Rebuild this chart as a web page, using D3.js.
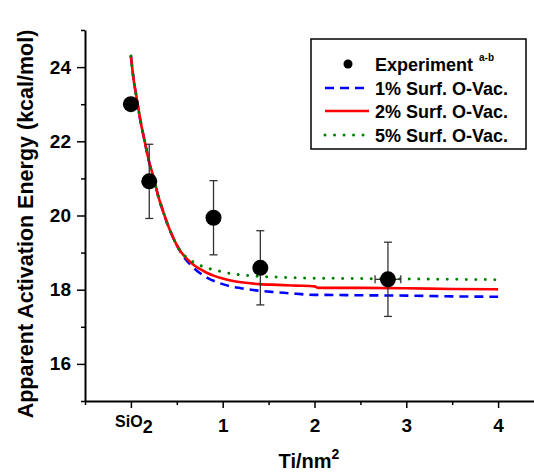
<!DOCTYPE html>
<html>
<head>
<meta charset="utf-8">
<script src="https://cdn.jsdelivr.net/npm/d3@7"></script>
<style>
  body { margin: 0; background: #fff; }
  text { font-family: "Liberation Sans", Arial, sans-serif; font-weight: bold; }
</style>
</head>
<body>
<script>
// experiment points (x in Ti/nm2, 0 = SiO2)
const expX = [0, 0.2, 0.9, 1.41, 2.8];
const expY = [23.0, 20.92, 19.94, 18.59, 18.28];
const expErrY = [0, 1.0, 1.0, 1.0, 1.0];
const expErrX = [0, 0, 0, 0, 0.14];

// model curves
const curveX = [0, 0.03, 0.06, 0.1, 0.15, 0.2, 0.25, 0.3, 0.35, 0.4, 0.45, 0.5, 0.55, 0.6,
  0.65, 0.7, 0.75, 0.8, 0.85, 0.9, 1.0, 1.1, 1.2, 1.4, 1.6, 1.8, 2.0, 2.04, 2.5, 3.0, 3.5, 4.0];
const vac1 = [24.30, 23.66, 23.21, 22.61, 22.00, 21.43, 21.00, 20.50, 20.12, 19.76, 19.46, 19.20, 18.98, 18.81,
  18.67, 18.55, 18.45, 18.37, 18.30, 18.24, 18.15, 18.08, 18.04, 17.97, 17.93, 17.89, 17.86, 17.86, 17.85, 17.84, 17.82, 17.81];
const vac2 = [24.30, 23.66, 23.21, 22.61, 22.00, 21.43, 21.00, 20.50, 20.12, 19.76, 19.46, 19.20, 19.00, 18.86,
  18.74, 18.64, 18.56, 18.49, 18.43, 18.38, 18.30, 18.24, 18.20, 18.15, 18.13, 18.11, 18.09, 18.05, 18.05, 18.04, 18.02, 18.01];
const vac5 = [24.30, 23.66, 23.21, 22.61, 22.00, 21.43, 21.00, 20.50, 20.12, 19.76, 19.46, 19.20, 19.01, 18.88,
  18.79, 18.72, 18.66, 18.61, 18.57, 18.54, 18.48, 18.43, 18.40, 18.36, 18.34, 18.32, 18.31, 18.31, 18.30, 18.29, 18.28, 18.27];

const xMajor = [0, 1, 2, 3, 4];
const xMinor = [-0.5, 0.5, 1.5, 2.5, 3.5, 4.5];
const yMajor = [16, 18, 20, 22, 24];
const yMinor = [15, 17, 19, 21, 23, 25];

const legendLabels = ["Experiment", "1% Surf. O-Vac.", "2% Surf. O-Vac.", "5% Surf. O-Vac."];

const width = 534, height = 472;

const svg = d3.select("body").append("svg")
  .attr("width", width)
  .attr("height", height);

const x = d3.scaleLinear().domain([-0.5, 4.5]).range([85, 544]);
const y = d3.scaleLinear().domain([15, 25]).range([401, 30]);

// curves
const series = [
  {vals: vac1, color: "#0000ff", dash: "9,6", cap: "butt"},
  {vals: vac2, color: "#ff0000", dash: null, cap: "butt"},
  {vals: vac5, color: "#008000", dash: "0.01,9.5", cap: "round"}
];
const line = d3.line().curve(d3.curveMonotoneX);
series.forEach(function(s){
  svg.append("path")
    .attr("d", line(curveX.map((d, i) => [x(d), y(s.vals[i])])))
    .attr("fill", "none")
    .attr("stroke", s.color)
    .attr("stroke-width", s.cap == "round" ? 3 : 2.6)
    .attr("stroke-linecap", s.cap)
    .attr("stroke-dasharray", s.dash);
});

// error bars
const eb = svg.append("g").attr("stroke", "#333").attr("stroke-width", 1.3);
expX.forEach(function(d, i){
  if (expErrY[i] > 0) {
    eb.append("line").attr("x1", x(d)).attr("x2", x(d))
      .attr("y1", y(expY[i] + expErrY[i])).attr("y2", y(expY[i] - expErrY[i]));
    [expY[i] + expErrY[i], expY[i] - expErrY[i]].forEach(v => {
      eb.append("line").attr("x1", x(d) - 4).attr("x2", x(d) + 4)
        .attr("y1", y(v)).attr("y2", y(v));
    });
  }
  if (expErrX[i] > 0) {
    eb.append("line").attr("y1", y(expY[i])).attr("y2", y(expY[i]))
      .attr("x1", x(d - expErrX[i])).attr("x2", x(d + expErrX[i]));
    [d - expErrX[i], d + expErrX[i]].forEach(v => {
      eb.append("line").attr("x1", x(v)).attr("x2", x(v))
        .attr("y1", y(expY[i]) - 4).attr("y2", y(expY[i]) + 4);
    });
  }
});

svg.selectAll(".pt")
  .data(expX)
  .enter().append("circle")
  .attr("class", "pt")
  .attr("cx", d => x(d))
  .attr("cy", (d, i) => y(expY[i]))
  .attr("r", 8)
  .attr("fill", "#000");

// axes
const xAxis = svg.append("g").attr("transform", "translate(0,401)")
  .call(d3.axisBottom(x).tickValues(xMajor).tickSize(7).tickSizeOuter(0)
    .tickFormat(d => d == 0 ? "" : d));
svg.append("g").attr("transform", "translate(0,401)")
  .call(d3.axisBottom(x).tickValues(xMinor).tickSize(4).tickSizeOuter(0).tickFormat(""))
  .select(".domain").remove();
xAxis.select(".domain").attr("stroke-width", 2);
xAxis.selectAll("text").attr("font-size", 19).attr("y", 18).attr("fill", "#000");

// SiO2 label
const sio = xAxis.append("text")
  .attr("x", x(0) + 3).attr("y", 426.5 - 401)
  .attr("text-anchor", "middle")
  .attr("fill", "#000");
sio.append("tspan").attr("font-size", 16).text("SiO");
sio.append("tspan").attr("font-size", 18).attr("dy", 6.5).text("2");

const yAxis = svg.append("g").attr("transform", "translate(85,0)")
  .call(d3.axisLeft(y).tickValues(yMajor).tickSize(8).tickPadding(6).tickSizeOuter(0));
svg.append("g").attr("transform", "translate(85,0)")
  .call(d3.axisLeft(y).tickValues(yMinor).tickSize(4).tickSizeOuter(0).tickFormat(""))
  .select(".domain").remove();
yAxis.select(".domain").attr("stroke-width", 2);
yAxis.selectAll("text").attr("font-size", 19).attr("fill", "#000");
svg.selectAll(".tick line").attr("stroke-width", 1.5);

// axis titles
const xt = svg.append("text")
  .attr("x", 309).attr("y", 468)
  .attr("text-anchor", "middle")
  .attr("font-size", 20);
xt.append("tspan").text("Ti/nm");
xt.append("tspan").attr("font-size", 14).attr("dy", -9).text("2");

svg.append("text")
  .attr("transform", "translate(33,224) rotate(-90)")
  .attr("text-anchor", "middle")
  .attr("font-size", 21.5)
  .text("Apparent Activation Energy (kcal/mol)");

// legend
const lg = svg.append("g");
lg.append("rect")
  .attr("x", 311).attr("y", 39).attr("width", 215).attr("height", 110)
  .attr("fill", "#fff").attr("stroke", "#000").attr("stroke-width", 1.5);
const rowY = [64, 88, 111, 135];
lg.append("circle").attr("cx", 348).attr("cy", rowY[0]).attr("r", 4.5).attr("fill", "#000");
series.forEach(function(s, i){
  lg.append("line")
    .attr("x1", 325).attr("x2", 369)
    .attr("y1", rowY[i + 1]).attr("y2", rowY[i + 1])
    .attr("stroke", s.color)
    .attr("stroke-width", s.cap == "round" ? 3 : 2.6)
    .attr("stroke-linecap", s.cap)
    .attr("stroke-dasharray", s.dash);
});
legendLabels.forEach(function(t, i){
  const tx = lg.append("text")
    .attr("x", 375).attr("y", rowY[i] + 6.5)
    .attr("font-size", 18)
    .text(t);
  if (i == 0) {
    tx.append("tspan").attr("font-size", 10).attr("dx", 6).attr("dy", -9.5).text("a-b");
  }
});
</script>
</body>
</html>
